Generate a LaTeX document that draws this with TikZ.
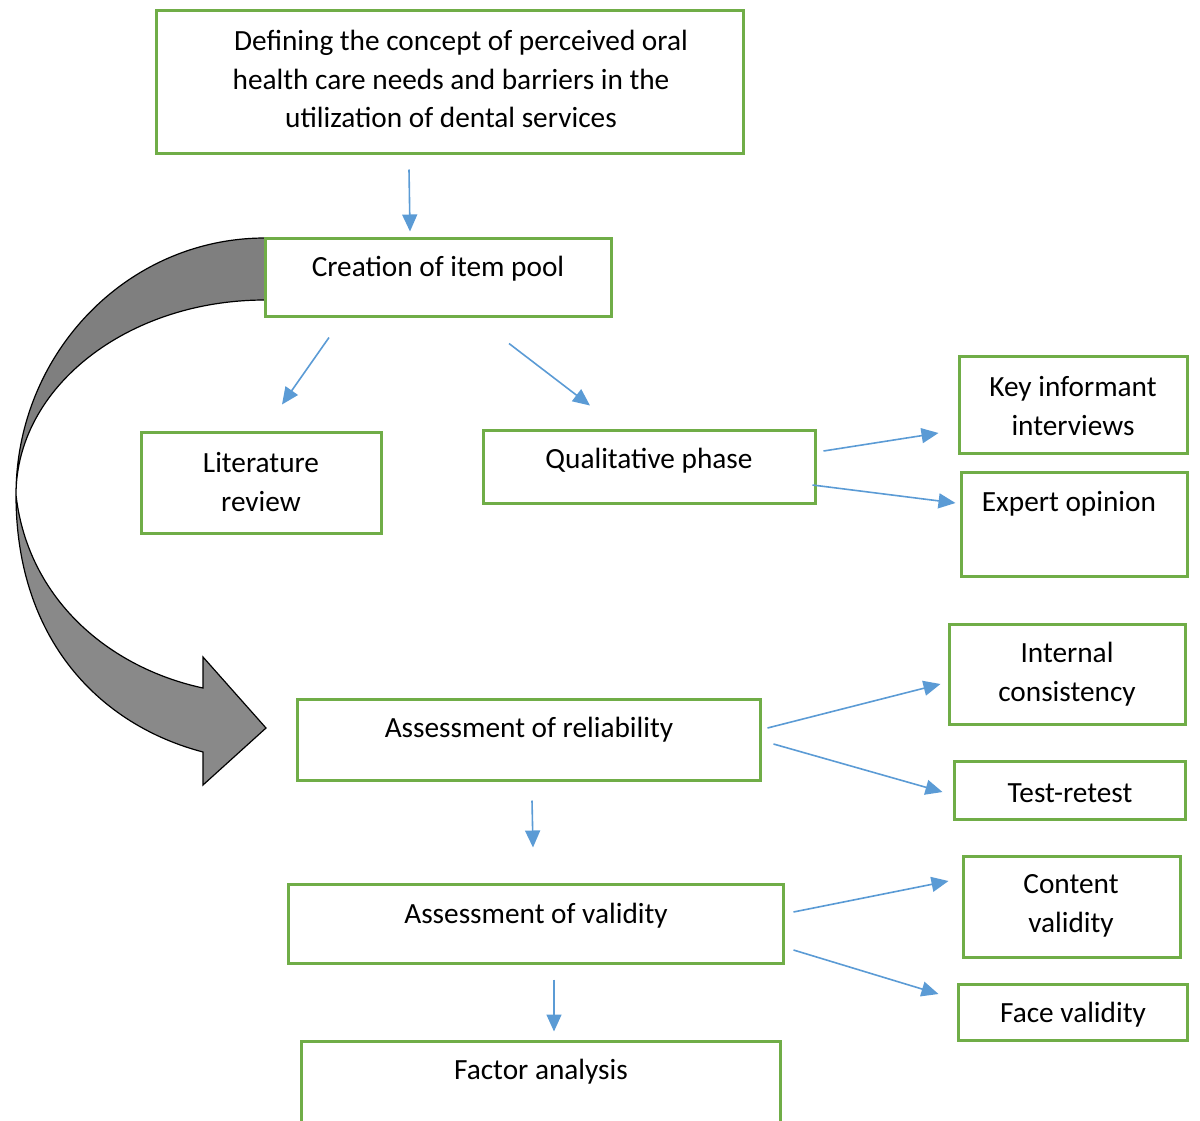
\documentclass[tikz,border=0pt]{standalone}
\usepackage{fontspec}
\setmainfont{Carlito}
\usetikzlibrary{arrows.meta}
\definecolor{boxgreen}{HTML}{70AD47}
\definecolor{arrblue}{HTML}{5B9BD5}
\definecolor{bandA}{HTML}{7F7F7F}
\definecolor{bandB}{HTML}{898989}
\begin{document}
\begin{tikzpicture}[x=1pt,y=-1pt,
  box/.style={draw=boxgreen, line width=3pt, rectangle, inner sep=0pt},
  txt/.style={inner sep=0pt, align=center, font=\fontsize{29.3}{38.5}\selectfont},
  arr/.style={draw=arrblue, line width=1.6pt, -{Triangle[length=17pt,width=15pt]}},
  band/.style={draw=black, line width=1.2pt, line join=miter}]
\useasboundingbox (0,0) rectangle (1200,1120);
\clip (0,0) rectangle (1200,1120);

% curved return arrow
\path[band, fill=bandB] (16,495) .. controls (16,640) and (100,725) .. (203,752)
  -- (203,785) -- (266,728) -- (203,657) -- (203,688)
  .. controls (110,668) and (28,600) .. (16,495) -- cycle;
\path[band, fill=bandA] (265,238) .. controls (127.5,238) and (16,353) .. (16,495)
  .. controls (16,387) and (127.5,300) .. (265,300) -- cycle;

% boxes
\node[box, minimum width=587pt, minimum height=143pt] (def)  at (449.5,81.5) {};
\node[box, minimum width=346pt, minimum height=78pt]  (pool) at (438,277) {};
\node[box, minimum width=240pt, minimum height=101pt] (lit)  at (261,482.5) {};
\node[box, minimum width=332pt, minimum height=73pt]  (qual) at (649,466.5) {};
\node[box, minimum width=228pt, minimum height=97pt]  (key)  at (1073,404.5) {};
\node[box, minimum width=226pt, minimum height=104pt] (exp)  at (1074,524) {};
\node[box, minimum width=236pt, minimum height=100pt] (int)  at (1067,674) {};
\node[box, minimum width=463pt, minimum height=81pt]  (rel)  at (528.5,739.5) {};
\node[box, minimum width=231pt, minimum height=58pt]  (test) at (1069.5,790) {};
\node[box, minimum width=495pt, minimum height=79pt]  (val)  at (535.5,923.5) {};
\node[box, minimum width=217pt, minimum height=101pt] (cont) at (1071.5,906.5) {};
\node[box, minimum width=229pt, minimum height=56pt]  (face) at (1072.5,1012) {};
\node[box, minimum width=479pt, minimum height=94pt]  (fac)  at (540.5,1088) {};

% labels
\node[txt] (deft)  at (451,79) {\hspace*{20pt}Defining the concept of perceived oral\\health care needs and barriers in the\\utilization of dental services};
\node[txt] (poolt) at (438,269) {Creation of item pool};
\node[txt] (litt)  at (261,482) {Literature\\review};
\node[txt] (qualt) at (649,461) {Qualitative phase};
\node[txt] (keyt)  at (1073,406) {Key informant\\interviews};
\node[txt] (expt)  at (1069,504) {Expert opinion};
\node[txt] (intt)  at (1067,674) {Internal\\consistency};
\node[txt] (relt)  at (529,730) {Assessment of reliability};
\node[txt] (testt) at (1070,793) {Test-retest};
\node[txt] (valt)  at (536,916) {Assessment of validity};
\node[txt] (contt) at (1071,906) {Content\\validity};
\node[txt] (facet) at (1073,1015) {Face validity};
\node[txt] (fact)  at (541,1072) {Factor analysis};

% connectors
\draw[arr] ([shift={(-40.5,15)}]def.south) -- ([shift={(-28,-5)}]pool.north);
\draw[arr] ([shift={(-109,20)}]pool.south) -- ([shift={(21,-26)}]lit.north);
\draw[arr] ([shift={(71,26)}]pool.south) -- ([shift={(-59,-23)}]qual.north);
\draw[arr] ([shift={(7,-15.5)}]qual.east) -- ([shift={(-19,28.5)}]key.west);
\draw[arr] ([shift={(-4,18.5)}]qual.east) -- ([shift={(-4,-21)}]exp.west);
\draw[arr] ([shift={(6,-11.5)}]rel.east) -- ([shift={(-7,10)}]int.west);
\draw[arr] ([shift={(12,4.5)}]rel.east) -- ([shift={(-10,2)}]test.west);
\draw[arr] ([shift={(3.5,19)}]rel.south) -- ([shift={(-2.5,-35)}]val.north);
\draw[arr] ([shift={(9,-11.5)}]val.east) -- ([shift={(-13,-25.5)}]cont.west);
\draw[arr] ([shift={(9,26.5)}]val.east) -- ([shift={(-18,-18)}]face.west);
\draw[arr] ([shift={(18.5,15)}]val.south) -- ([shift={(13.5,-8)}]fac.north);
\end{tikzpicture}
\end{document}
